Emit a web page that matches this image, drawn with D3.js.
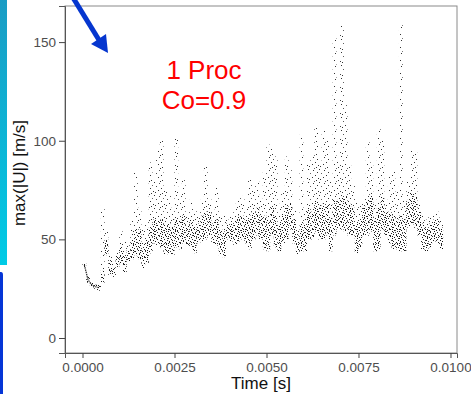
<!DOCTYPE html>
<html>
<head>
<meta charset="utf-8">
<script src="https://cdn.jsdelivr.net/npm/d3@7"></script>
<style>
  body { margin: 0; background: #fff; }
  #chart { width: 471px; height: 394px; }
  text { font-family: "Liberation Sans", Arial, sans-serif; }
</style>
</head>
<body>
<div id="chart"></div>
<script>
// sample times (s) and the spread of max(|U|)
const timeS = [0.0000, 0.0001, 0.0002, 0.0003, 0.0004, 0.0005, 0.0006, 0.0007, 0.0008, 0.0009,
  0.0010, 0.0011, 0.0012, 0.0013, 0.0014, 0.0015, 0.0016, 0.0017, 0.0018, 0.0019,
  0.0020, 0.0021, 0.0022, 0.0023, 0.0024, 0.0025, 0.0026, 0.0027, 0.0028, 0.0029,
  0.0030, 0.0031, 0.0032, 0.0033, 0.0034, 0.0035, 0.0036, 0.0037, 0.0038, 0.0039,
  0.0040, 0.0041, 0.0042, 0.0043, 0.0044, 0.0045, 0.0046, 0.0047, 0.0048, 0.0049,
  0.0050, 0.0051, 0.0052, 0.0053, 0.0054, 0.0055, 0.0056, 0.0057, 0.0058, 0.0059,
  0.0060, 0.0061, 0.0062, 0.0063, 0.0064, 0.0065, 0.0066, 0.0067, 0.0068, 0.0069,
  0.0070, 0.0071, 0.0072, 0.0073, 0.0074, 0.0075, 0.0076, 0.0077, 0.0078, 0.0079,
  0.0080, 0.0081, 0.0082, 0.0083, 0.0084, 0.0085, 0.0086, 0.0087, 0.0088, 0.0089,
  0.0090, 0.0091, 0.0092, 0.0093, 0.0094, 0.0095, 0.0096, 0.0097];

// lowest value in each slice
const uLow = [36, 28, 26, 25, 24, 28, 42, 32, 31, 36,
  38, 33, 39, 40, 42, 40, 35, 38, 43, 48,
  47, 46, 42, 43, 42, 46, 45, 48, 47, 46,
  43, 48, 49, 50, 52, 48, 47, 42, 41, 50,
  49, 47, 49, 50, 48, 45, 50, 52, 50, 45,
  44, 52, 46, 44, 48, 50, 55, 48, 42, 44,
  44, 50, 50, 54, 50, 50, 52, 44, 52, 55,
  55, 54, 52, 52, 43, 46, 52, 52, 54, 44,
  45, 55, 52, 48, 45, 45, 44, 44, 56, 58,
  56, 52, 45, 44, 46, 49, 48, 45];

// top of the dense band
const uMid = [38, 31, 28, 27, 27, 34, 50, 40, 36, 42,
  46, 42, 45, 50, 55, 55, 46, 50, 56, 60,
  60, 60, 58, 58, 56, 60, 60, 62, 58, 60,
  56, 58, 62, 64, 64, 58, 60, 55, 54, 58,
  58, 60, 62, 62, 60, 62, 64, 66, 62, 62,
  60, 66, 62, 58, 62, 66, 68, 60, 52, 58,
  58, 66, 64, 70, 66, 68, 68, 60, 70, 70,
  72, 72, 68, 66, 58, 60, 66, 70, 72, 60,
  66, 72, 64, 64, 62, 60, 62, 60, 70, 74,
  72, 64, 58, 56, 58, 60, 60, 56];

// highest (sparse) value in each slice
const uHigh = [38, 31, 28, 27, 27, 67, 55, 45, 38, 45,
  54, 50, 47, 60, 84, 66, 55, 60, 89, 80,
  95, 100, 75, 72, 66, 101, 72, 80, 62, 70,
  65, 63, 70, 88, 72, 65, 77, 62, 62, 60,
  62, 68, 72, 72, 66, 82, 78, 80, 70, 84,
  98, 96, 92, 68, 74, 92, 85, 66, 55, 103,
  66, 90, 92, 108, 88, 105, 100, 80, 152, 90,
  159, 118, 88, 78, 70, 68, 72, 100, 89, 70,
  107, 100, 70, 82, 85, 74, 160, 70, 80, 97,
  94, 68, 64, 60, 62, 62, 64, 60];

const xTicks = [0, 0.0025, 0.005, 0.0075, 0.01];
const yTicks = [0, 50, 100, 150];
const step = 0.0001;

const W = 471, H = 394;
const svg = d3.select("#chart").append("svg")
    .attr("width", W)
    .attr("height", H);

const defs = svg.append("defs");

// slide decorations on the left edge
const grad = defs.append("linearGradient")
    .attr("id", "cyanBar")
    .attr("x1", 0).attr("y1", 0).attr("x2", 0).attr("y2", 1);
grad.append("stop").attr("offset", "0%").attr("stop-color", "#1a9cc4");
grad.append("stop").attr("offset", "100%").attr("stop-color", "#00cbe6");

// dotted textures that imitate the scatter of tiny points
const sparse = defs.append("pattern")
    .attr("id", "sparseDots")
    .attr("patternUnits", "userSpaceOnUse")
    .attr("width", 11).attr("height", 13);
[[0, 0], [5, 1], [9, 3], [2, 4], [7, 6], [4, 8], [10, 9], [1, 10], [6, 12], [8, 11]].forEach(p => {
    sparse.append("rect").attr("x", p[0]).attr("y", p[1])
        .attr("width", 1).attr("height", 1).attr("fill", "#333");
});

const dense = defs.append("pattern")
    .attr("id", "denseDots")
    .attr("patternUnits", "userSpaceOnUse")
    .attr("width", 7).attr("height", 7);
[[0, 0], [3, 1], [6, 2], [1, 3], [4, 4], [2, 6], [5, 5], [0, 5]].forEach(p => {
    dense.append("rect").attr("x", p[0]).attr("y", p[1])
        .attr("width", 1).attr("height", 1).attr("fill", "#1a1a1a");
});

svg.append("rect")
    .attr("x", 0).attr("y", 0).attr("width", 7).attr("height", 265)
    .attr("fill", "url(#cyanBar)");
svg.append("path")
    .attr("d", "M0,272 L1,272 Q3,272 3,275 L3,394 L0,394 Z")
    .attr("fill", "#0535d6");

// scales
const x = d3.scaleLinear()
    .domain([-0.000476, 0.010177])
    .range([65, 457]);
const y = d3.scaleLinear()
    .domain([-7.6, 168.3])
    .range([353, 6]);

const rows = timeS.map((t, i) => ({t: t, lo: uLow[i], mid: uMid[i], hi: uHigh[i]}));

const plot = svg.append("g");

// sparse streaks
plot.selectAll(".streak")
    .data(rows)
    .enter().append("rect")
    .attr("class", "streak")
    .attr("x", d => x(d.t))
    .attr("width", d => x(d.t + step) - x(d.t))
    .attr("y", d => y(d.hi))
    .attr("height", d => y(d.lo) - y(d.hi))
    .attr("fill", "url(#sparseDots)");

// dense band
plot.selectAll(".core")
    .data(rows)
    .enter().append("rect")
    .attr("class", "core")
    .attr("x", d => x(d.t))
    .attr("width", d => x(d.t + step) - x(d.t))
    .attr("y", d => y(d.mid))
    .attr("height", d => y(d.lo) - y(d.mid))
    .attr("fill", "url(#denseDots)");

// early part is a thin continuous trace
plot.append("path")
    .datum(rows.filter(d => d.t <= 0.0004))
    .attr("fill", "none")
    .attr("stroke", "#222")
    .attr("stroke-width", 1.2)
    .attr("stroke-dasharray", "1.5,0.8")
    .attr("d", d3.line().x(d => x(d.t + step / 2)).y(d => y((d.lo + d.hi) / 2)));

// panel border
svg.append("rect")
    .attr("x", 65).attr("y", 6)
    .attr("width", 392).attr("height", 347)
    .attr("fill", "none")
    .attr("stroke", "#8a8a8a")
    .attr("stroke-width", 1);

const xAxis = d3.axisBottom(x)
    .tickValues(xTicks)
    .tickFormat(d3.format(".4f"))
    .tickSize(5)
    .tickPadding(4);
const yAxis = d3.axisLeft(y)
    .tickValues(yTicks)
    .tickSize(6)
    .tickPadding(3);

const gx = svg.append("g")
    .attr("transform", "translate(0,353)")
    .call(xAxis);
const gy = svg.append("g")
    .attr("transform", "translate(65,0)")
    .call(yAxis);

[gx, gy].forEach(g => {
    g.select(".domain").attr("stroke", "#555");
    g.selectAll(".tick line").attr("stroke", "#444");
    g.selectAll(".tick text")
        .attr("fill", "#4d4d4d")
        .style("font-size", "13.5px")
        .style("font-family", "'Liberation Sans', Arial, sans-serif");
});

svg.append("text")
    .attr("x", 261).attr("y", 389)
    .attr("text-anchor", "middle")
    .attr("font-size", "17px")
    .attr("fill", "#111")
    .text("Time [s]");

svg.append("text")
    .attr("transform", "translate(25,173) rotate(-90)")
    .attr("text-anchor", "middle")
    .attr("font-size", "17px")
    .attr("fill", "#111")
    .text("max(|U|) [m/s]");

// red annotation
svg.append("text")
    .attr("x", 204).attr("y", 79)
    .attr("text-anchor", "middle")
    .attr("font-size", "26px")
    .attr("fill", "#ff0000")
    .text("1 Proc");
svg.append("text")
    .attr("x", 204).attr("y", 109)
    .attr("text-anchor", "middle")
    .attr("font-size", "26px")
    .attr("fill", "#ff0000")
    .text("Co=0.9");

// blue arrow
svg.append("line")
    .attr("x1", 72).attr("y1", -4)
    .attr("x2", 99).attr("y2", 40)
    .attr("stroke", "#0536cf")
    .attr("stroke-width", 5);
svg.append("polygon")
    .attr("points", "91,44 108,53 106,34")
    .attr("fill", "#0536cf");
</script>
</body>
</html>
